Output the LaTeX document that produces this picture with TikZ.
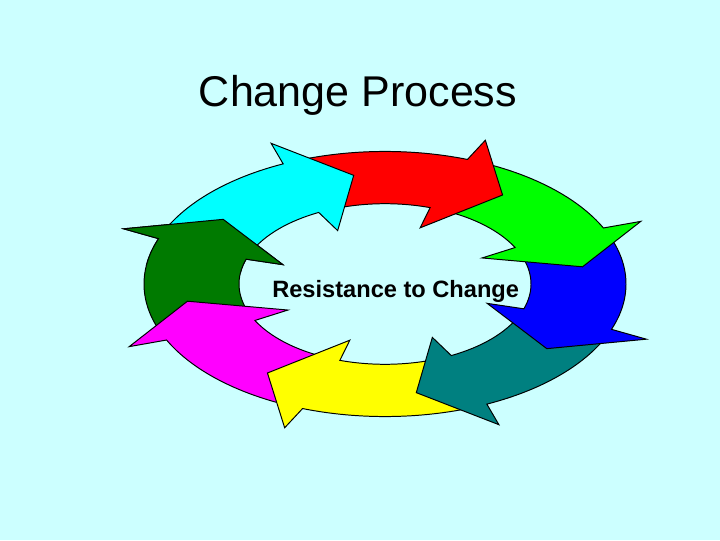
\documentclass[tikz,border=0pt]{standalone}
\usepackage{fontspec}
\setmainfont{Liberation Sans}
\usetikzlibrary{positioning}
\definecolor{bgcyan}{HTML}{CCFFFF}
\definecolor{ringcyan}{HTML}{00FFFF}
\definecolor{ringred}{HTML}{FF0000}
\definecolor{ringgreen}{HTML}{00FF00}
\definecolor{ringblue}{HTML}{0000FF}
\definecolor{ringteal}{HTML}{008080}
\definecolor{ringyellow}{HTML}{FFFF00}
\definecolor{ringmagenta}{HTML}{FF00FF}
\definecolor{ringdkgreen}{HTML}{007A00}
\newcommand{\ringarrow}[2]{%
  \pgfmathsetmacro{\arTail}{#2+58}%
  \pgfmathsetmacro{\arOb}{#2+16}%
  \pgfmathsetmacro{\arOw}{#2+15}%
  \pgfmathsetmacro{\arIw}{#2+17}%
  \pgfmathsetmacro{\arIb}{#2+18}%
  \draw[ringpart, fill=#1] (\arTail:241) arc[start angle=\arTail, end angle=\arOb, radius=241]
    -- (\arOw:280) -- (#2:200) -- (\arIw:108) -- (\arIb:146)
    arc[start angle=\arIb, end angle=\arTail, radius=146] -- cycle;}

\begin{document}
\begin{tikzpicture}[x=0.025cm, y=0.025cm,
  ringpart/.style={draw=black, line width=0.7pt, line join=miter},
  titletext/.style={font=\fontsize{30.6}{36}\selectfont},
  centertext/.style={font=\fontsize{16.8}{20}\selectfont\bfseries}]
\useasboundingbox (0,0) rectangle (720,540);
\fill[bgcyan] (0,0) rectangle (720,540);

\node[titletext, anchor=base] (title) at (358,433) {Change Process};

\begin{scope}[shift={(385,256)}, yscale=0.55]
  \foreach \col/\tip in {ringdkgreen/144, ringmagenta/-171, ringyellow/-126, ringteal/-81,
                         ringblue/-36, ringgreen/9, ringred/54, ringcyan/99}
    {\ringarrow{\col}{\tip}}
  \begin{scope}
    \clip (0,0) -- (118:420) -- (172:420) -- cycle;
    \ringarrow{ringdkgreen}{144}
  \end{scope}
\end{scope}

\node[centertext, anchor=base west, inner sep=0pt] (resist) at (272,243) {Resistance to Change};
\end{tikzpicture}
\end{document}
